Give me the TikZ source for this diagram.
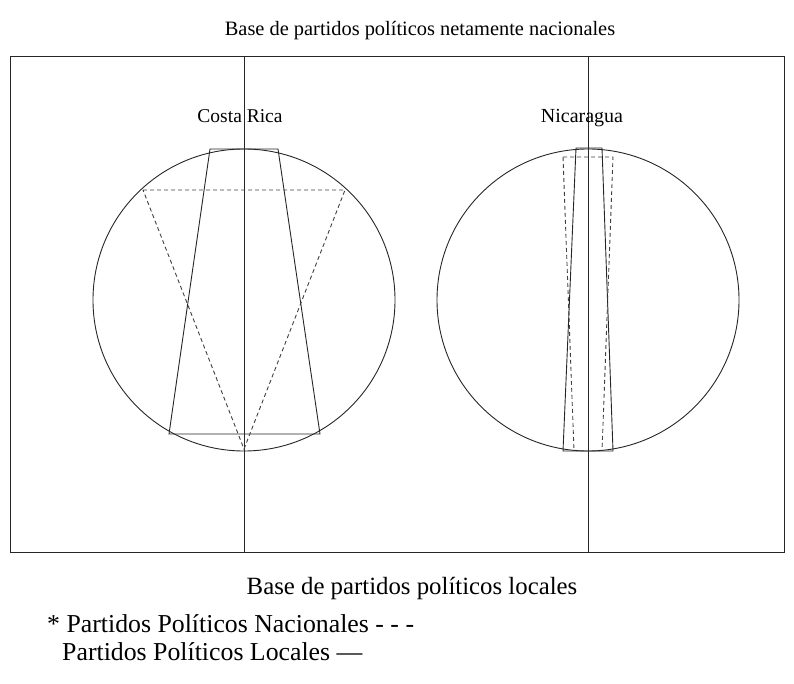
\documentclass[tikz,border=0pt]{standalone}
\usepackage{fontspec}
\setmainfont{Liberation Serif}
\usetikzlibrary{positioning}
\tikzset{linea/.style={line width=0.9pt, black!85},
         punteada/.style={line width=0.9pt, black!75, dashed, dash pattern=on 4pt off 3pt},
         rotulo/.style={inner sep=0pt, font=\fontsize{20.4}{24}\selectfont}}

\begin{document}
\begin{tikzpicture}[x=1pt,y=-1pt]
                \useasboundingbox (0,0) rectangle (794,684);

                % marco y ejes
                \draw[linea] (10,56) rectangle (784,552);
                \coordinate (ejeA1) at (244,56);
                \coordinate (ejeA2) at (244,552);
                \coordinate (ejeB1) at (588,56);
                \coordinate (ejeB2) at (588,552);
                \draw[linea] (ejeA1) -- (ejeA2);
                \draw[linea] (ejeB1) -- (ejeB2);

                \node[rotulo] (arriba) at (420,31) {Base de partidos políticos netamente nacionales};
                \node[rotulo, font=\fontsize{24.8}{30}\selectfont] (abajo) at (412,589) {Base de partidos políticos locales};

                % Costa Rica
                \node[rotulo, anchor=base, font=\fontsize{19.5}{22}\selectfont] (cr) at (240,123) {Costa Rica};
                \draw[linea] (244,300) circle (151);
                \draw[linea] (210,149) -- (278,149) -- (320,434) -- (169,434) -- cycle;
                \draw[punteada] (143,190) -- (345,190) -- (244,449) -- cycle;

                % Nicaragua
                \node[rotulo, anchor=base, font=\fontsize{20}{24}\selectfont] (ni) at (582,123) {Nicaragua};
                \draw[linea] (588,300) circle (151);
                \draw[linea] (576,148) -- (602,148) -- (613,451) -- (563,451) -- cycle;
                \draw[punteada] (563,157) -- (613,157) -- (602,451);
                \draw[punteada] (563,157) -- (574,451);

                % leyenda
                \node[rotulo, anchor=west, font=\fontsize{25.8}{30}\selectfont] (nac) at (47,624) {* Partidos Políticos Nacionales - - -};
                \node[rotulo, anchor=west, font=\fontsize{25.8}{30}\selectfont] (loc) at (62,652) {Partidos Políticos Locales —};

            \end{tikzpicture}
\end{document}
